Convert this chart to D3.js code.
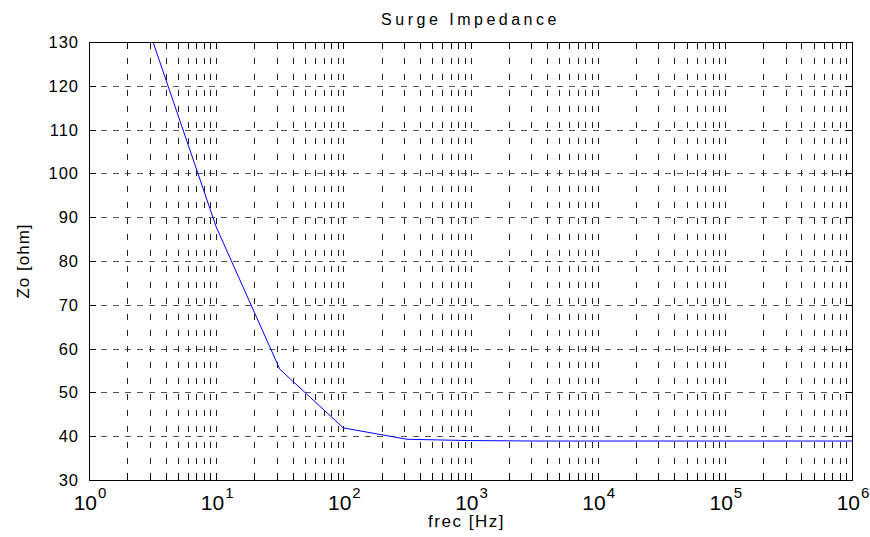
<!DOCTYPE html>
<meta charset="utf-8">
<style>
body { margin: 0; background: #fff; }
svg text { font-family: "Liberation Sans", Arial, sans-serif; fill: #000; }
.hgrid { stroke: #555; stroke-width: 1; stroke-dasharray: 6,6; }
.vgrid { stroke: #222; stroke-width: 1; stroke-dasharray: 6,10; }
.frame { fill: none; stroke: #000; stroke-width: 1; }
.tick { stroke: #000; stroke-width: 1; }
.line { fill: none; stroke: #0000ff; stroke-width: 1; }
</style>
<body>
<script src="https://d3js.org/d3.v7.min.js"></script>
<script>
// data
var freq = [3.162, 10, 31.62, 100, 316.2, 1000, 3162, 10000, 31620, 100000, 316200, 1000000];
var zo   = [130.3, 87.8, 55.3, 41.9, 39.3, 39.0, 38.9, 38.9, 38.9, 38.9, 38.9, 38.9];
var yTicks = [30, 40, 50, 60, 70, 80, 90, 100, 110, 120, 130];
var decades = [0, 1, 2, 3, 4, 5, 6];

var W = 870, H = 537;
var margin = {top: 42, right: 18, bottom: 57, left: 89};
var width = W - margin.left - margin.right,
    height = H - margin.top - margin.bottom;

var x = d3.scaleLog().domain([1, 1e6]).range([0, width]);
var y = d3.scaleLinear().domain([30, 130]).range([height, 0]);

var svg = d3.select("body").append("svg")
    .attr("width", W).attr("height", H);
var g = svg.append("g")
    .attr("transform", "translate(" + margin.left + "," + margin.top + ")");

// minor + major x positions
var xGrid = [];
decades.slice(0, -1).forEach(function(k) {
  for (var m = 1; m <= 9; m++) xGrid.push(m * Math.pow(10, k));
});
xGrid.push(1e6);

// grid
g.selectAll(".hgrid").data(yTicks.slice(1, -1)).enter().append("line")
  .attr("class", "hgrid")
  .attr("x1", 0).attr("x2", width)
  .attr("y1", function(d) { return Math.round(y(d)) + 0.5; })
  .attr("y2", function(d) { return Math.round(y(d)) + 0.5; });

g.selectAll(".vgrid").data(xGrid.slice(1, -1)).enter().append("line")
  .attr("class", "vgrid")
  .attr("y1", 0).attr("y2", height)
  .attr("x1", function(d) { return Math.round(x(d)) + 0.5; })
  .attr("x2", function(d) { return Math.round(x(d)) + 0.5; });

// ticks (inside, all sides)
var tl = 7;
g.selectAll(".ytl").data(yTicks).enter().append("line")
  .attr("class", "tick")
  .attr("x1", 0).attr("x2", tl)
  .attr("y1", function(d) { return Math.round(y(d)) + 0.5; })
  .attr("y2", function(d) { return Math.round(y(d)) + 0.5; });
g.selectAll(".ytr").data(yTicks).enter().append("line")
  .attr("class", "tick")
  .attr("x1", width - tl).attr("x2", width)
  .attr("y1", function(d) { return Math.round(y(d)) + 0.5; })
  .attr("y2", function(d) { return Math.round(y(d)) + 0.5; });
g.selectAll(".xtb").data(xGrid).enter().append("line")
  .attr("class", "tick")
  .attr("y1", height - tl).attr("y2", height)
  .attr("x1", function(d) { return Math.round(x(d)) + 0.5; })
  .attr("x2", function(d) { return Math.round(x(d)) + 0.5; });
g.selectAll(".xtt").data(xGrid).enter().append("line")
  .attr("class", "tick")
  .attr("y1", 0).attr("y2", tl)
  .attr("x1", function(d) { return Math.round(x(d)) + 0.5; })
  .attr("x2", function(d) { return Math.round(x(d)) + 0.5; });

// clip + line
svg.append("clipPath").attr("id", "clip")
  .append("rect").attr("width", width).attr("height", height);

var pts = freq.map(function(f, i) { return [f, zo[i]]; });
g.append("path")
  .datum(pts)
  .attr("class", "line")
  .attr("clip-path", "url(#clip)")
  .attr("d", d3.line()
    .x(function(d) { return x(d[0]); })
    .y(function(d) { return y(d[1]); }));

// frame
g.append("rect").attr("class", "frame")
  .attr("x", 0.5).attr("y", 0.5)
  .attr("width", width).attr("height", height);

// y tick labels
g.selectAll(".ylab").data(yTicks).enter().append("text")
  .attr("x", -10)
  .attr("y", function(d) { return y(d); })
  .attr("dy", "0.36em")
  .attr("text-anchor", "end")
  .style("font-size", "16.5px")
  .style("letter-spacing", "1px")
  .text(function(d) { return d; });

// x tick labels 10^k
var xl = g.selectAll(".xlab").data(decades).enter().append("text")
  .attr("x", function(d) { return x(Math.pow(10, d)) + 1; })
  .attr("y", height + 30)
  .attr("text-anchor", "middle");
xl.append("tspan").style("font-size", "21px").text("10");
xl.append("tspan").style("font-size", "15px").attr("dx", 1).attr("dy", -12)
  .text(function(d) { return d; });

// axis titles
g.append("text")
  .attr("x", width / 2 - 4).attr("y", height + 47)
  .attr("text-anchor", "middle")
  .style("font-size", "17px")
  .style("letter-spacing", "1.5px")
  .text("frec [Hz]");

g.append("text")
  .attr("transform", "translate(" + (-60) + "," + (height / 2) + ") rotate(-90)")
  .attr("text-anchor", "middle")
  .style("font-size", "17px")
  .style("letter-spacing", "1px")
  .text("Zo [ohm]");

g.append("text")
  .attr("x", width / 2).attr("y", -17)
  .attr("text-anchor", "middle")
  .style("font-size", "16px")
  .style("letter-spacing", "3.5px")
  .text("Surge Impedance");
</script>
</body>
